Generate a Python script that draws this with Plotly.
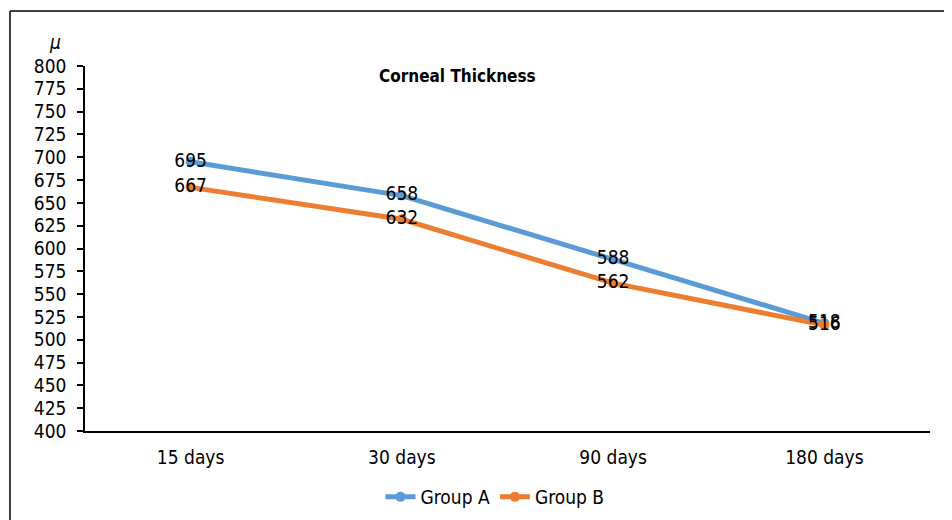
import plotly.graph_objects as go

categories = ["15 days", "30 days", "90 days", "180 days"]
group_a = [695, 658, 588, 518]
group_b = [667, 632, 562, 516]
y_ticks = list(range(400, 801, 25))

FONT = "DejaVu Sans Condensed, Liberation Sans Narrow, Arial Narrow, sans-serif"
FS = 19

fig = go.Figure()
for name, vals, color in [("Group A", group_a, "#5B9BD5"), ("Group B", group_b, "#ED7D31")]:
    fig.add_trace(go.Scatter(
        x=categories, y=vals, name=name, mode="lines+markers+text",
        line=dict(color=color, width=5),
        marker=dict(color=color, size=10),
        text=[str(v) for v in vals], textposition="middle center",
        textfont=dict(family=FONT, size=FS, color="black"),
        cliponaxis=False,
    ))

# page offset of the plot div (browser body margin)
OFF = 8
W, H = 944, 512
L, T = 85 - OFF, 66 - OFF
R = W - (930 - OFF)
B = H - (431 - OFF)
pw, ph = W - L - R, H - T - B
def px(x):
    return (x - OFF - L) / pw
def py(y):
    return (H - B - (y - OFF)) / ph

fig.update_layout(
    width=W, height=H,
    margin=dict(l=L, r=R, t=T, b=B, pad=0, autoexpand=False),
    paper_bgcolor="white", plot_bgcolor="white",
    font=dict(family=FONT, size=FS, color="black"),
    showlegend=True,
    legend=dict(orientation="h", x=px(495), xanchor="center", y=py(497), yanchor="middle",
                font=dict(family=FONT, size=FS), tracegroupgap=0),
    xaxis=dict(type="category", range=[-0.5, 3.5], showgrid=False, zeroline=False,
               showline=True, linecolor="black", linewidth=2, ticks="",
               ticklabelstandoff=8,
               tickfont=dict(family=FONT, size=FS)),
    yaxis=dict(range=[400, 800], tickvals=y_ticks, ticktext=[str(v) for v in y_ticks],
               showgrid=False, zeroline=False, showline=True, linecolor="black", linewidth=1.5,
               ticks="outside", ticklen=6, tickcolor="black", tickwidth=1.5,
               ticklabelstandoff=7,
               tickfont=dict(family=FONT, size=FS)),
    annotations=[
        dict(text="<b>Corneal Thickness</b>", xref="paper", yref="paper",
             x=px(457), y=py(76), xanchor="center", yanchor="middle", showarrow=False,
             font=dict(family=FONT, size=17)),
        dict(text="<i>μ</i>", xref="paper", yref="paper",
             x=px(55), y=py(42), xanchor="center", yanchor="middle", showarrow=False,
             font=dict(family=FONT, size=FS)),
    ],
    shapes=[
        dict(type="line", xref="paper", yref="paper", x0=px(10), x1=px(10), y0=py(540), y1=py(11),
             line=dict(color="black", width=1.5)),
        dict(type="line", xref="paper", yref="paper", x0=px(10), x1=px(960), y0=py(11), y1=py(11),
             line=dict(color="black", width=1.5)),
    ],
)

fig.write_html("out.html")
